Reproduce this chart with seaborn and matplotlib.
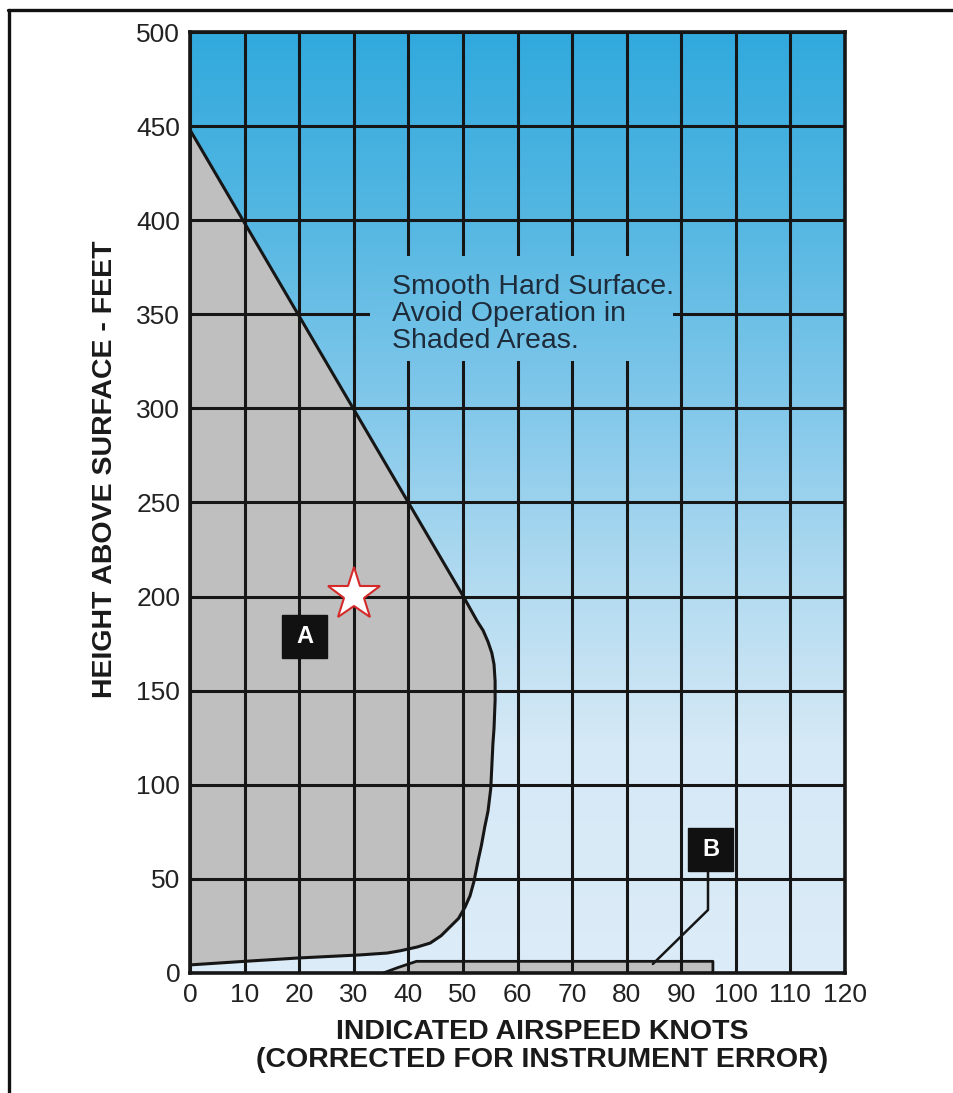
import numpy as np
import pandas as pd
import matplotlib
matplotlib.use("Agg")
import matplotlib.pyplot as plt
from matplotlib.colors import LinearSegmentedColormap
from matplotlib.patches import Rectangle
from matplotlib.lines import Line2D
import seaborn as sns

# --- data ---
x_ticks = list(range(0, 121, 10))
y_ticks = list(range(0, 501, 50))

# region A outline (airspeed knots, height ft)
a_speed = [0, 50.0, 52.6, 53.7, 54.6, 55.3, 55.7, 55.9, 55.9, 55.7, 55.5,
           55.1, 54.6, 54.0, 53.4, 52.8, 52.0, 51.3, 50.4, 49.2, 47.6, 46.0,
           44.0, 41.6, 38.5, 36.1, 31.1, 20, 10, 0]
a_height = [448, 200.5, 187, 182, 176, 170, 164, 155, 145, 130, 122,
            98, 86, 77.6, 68, 60, 48.4, 41, 35.1, 29, 24.4, 19.8,
            15.9, 13.8, 11.8, 10.6, 9.6, 8, 6.2, 4.3]

# region B outline
b_speed = [35.4, 38.0, 41.5, 95.8, 95.8]
b_height = [0, 2.8, 6.2, 6.2, 0]

# leader from the B label to region B
lead_speed = [94.9, 94.9, 84.8]
lead_height = [54, 33.5, 4.8]

star_pt = (30, 201)
label_a = (21.0, 178.8)
label_b = (95.4, 65.6)
note = "Smooth Hard Surface.\nAvoid Operation in\nShaded Areas."

sns.set_style("white")
plt.rcParams['font.family'] = ['Liberation Sans', 'DejaVu Sans']

fig = plt.figure(figsize=(9.54, 10.93), dpi=100)
ax = fig.add_axes([190/954, 120/1093, 655/954, 941/1093])

ink = '#161616'
xmin, xmax, ymin, ymax = 0, 120, 0, 500

# sky gradient background
sky = LinearSegmentedColormap.from_list('sky', [
    (0.0, '#dcecf8'), (0.24, '#d6e9f6'), (0.40, '#b5dcf1'),
    (0.60, '#83c8ea'), (0.80, '#55b7e2'), (1.0, '#31a9dd')])
grad = np.linspace(0, 1, 256).reshape(-1, 1)
ax.imshow(grad, cmap=sky, origin='lower', aspect='auto',
          extent=[xmin, xmax, ymin, ymax], zorder=0)

# shaded regions
ax.fill(a_speed, a_height, color='#c0bfbf', zorder=1, lw=0)
ax.fill(b_speed, b_height, color='#c0bfbf', zorder=1, lw=0)

# grid
ax.set_xticks(x_ticks)
ax.set_yticks(y_ticks)
ax.set_axisbelow(False)
ax.grid(True, color=ink, lw=2.2)

# mask grid behind the note
mask = ax.imshow(grad, cmap=sky, origin='lower', aspect='auto',
                 extent=[xmin, xmax, ymin, ymax], zorder=2.6)
mask.set_clip_path(Rectangle((33, 325), 55.5, 56, transform=ax.transData))

# outlines
sns.lineplot(x=a_speed, y=a_height, sort=False, estimator=None, color=ink,
             lw=2.2, ax=ax, zorder=3)
sns.lineplot(x=b_speed, y=b_height, sort=False, estimator=None, color=ink,
             lw=2.0, ax=ax, zorder=3)
sns.lineplot(x=lead_speed, y=lead_height, sort=False, estimator=None,
             color=ink, lw=1.8, ax=ax, zorder=3)

ax.text(37, 350, note, fontsize=20.5, color='#1e2b3a', ha='left',
        va='center', linespacing=1.05, zorder=4)

# labels A and B
for (lx, ly), txt in [(label_a, 'A'), (label_b, 'B')]:
    ax.add_patch(Rectangle((lx - 4.12, ly - 11.6), 8.24, 23.2,
                           color='#111111', zorder=4))
    ax.text(lx, ly, txt, fontsize=17, fontweight='bold', color='white',
            ha='center', va='center', zorder=5)

ax.plot(*star_pt, marker='*', markersize=40, markerfacecolor='white',
        markeredgecolor='#d42a2a', markeredgewidth=1.5, zorder=6)

ax.set_xlim(xmin, xmax)
ax.set_ylim(ymin, ymax)
ax.set_xticklabels([str(v) for v in x_ticks])
ax.set_yticklabels([str(v) for v in y_ticks])
ax.tick_params(axis='both', length=0, labelsize=19, colors='#222222', pad=7)

for sp in ax.spines.values():
    sp.set_visible(True)
    sp.set_color(ink)
    sp.set_linewidth(2.6)
    sp.set_zorder(7)

fig.text(105/954, 1 - 469/1093, 'HEIGHT ABOVE SURFACE - FEET', rotation=90,
         fontsize=20.5, fontweight='bold', color='#1a1a1a',
         ha='center', va='center')
fig.text(542/954, 1 - 1046/1093,
         'INDICATED AIRSPEED KNOTS\n(CORRECTED FOR INSTRUMENT ERROR)',
         fontsize=20.5, fontweight='bold', color='#1a1a1a',
         ha='center', va='center', linespacing=1.12)

# outer frame (top and left)
fig.add_artist(Line2D([8/954, 1], [1 - 10/1093, 1 - 10/1093],
                      transform=fig.transFigure, color='#111111', lw=2.4))
fig.add_artist(Line2D([9/954, 9/954], [0, 1 - 10/1093],
                      transform=fig.transFigure, color='#111111', lw=2.4))

fig.savefig('out.png', dpi=100)
